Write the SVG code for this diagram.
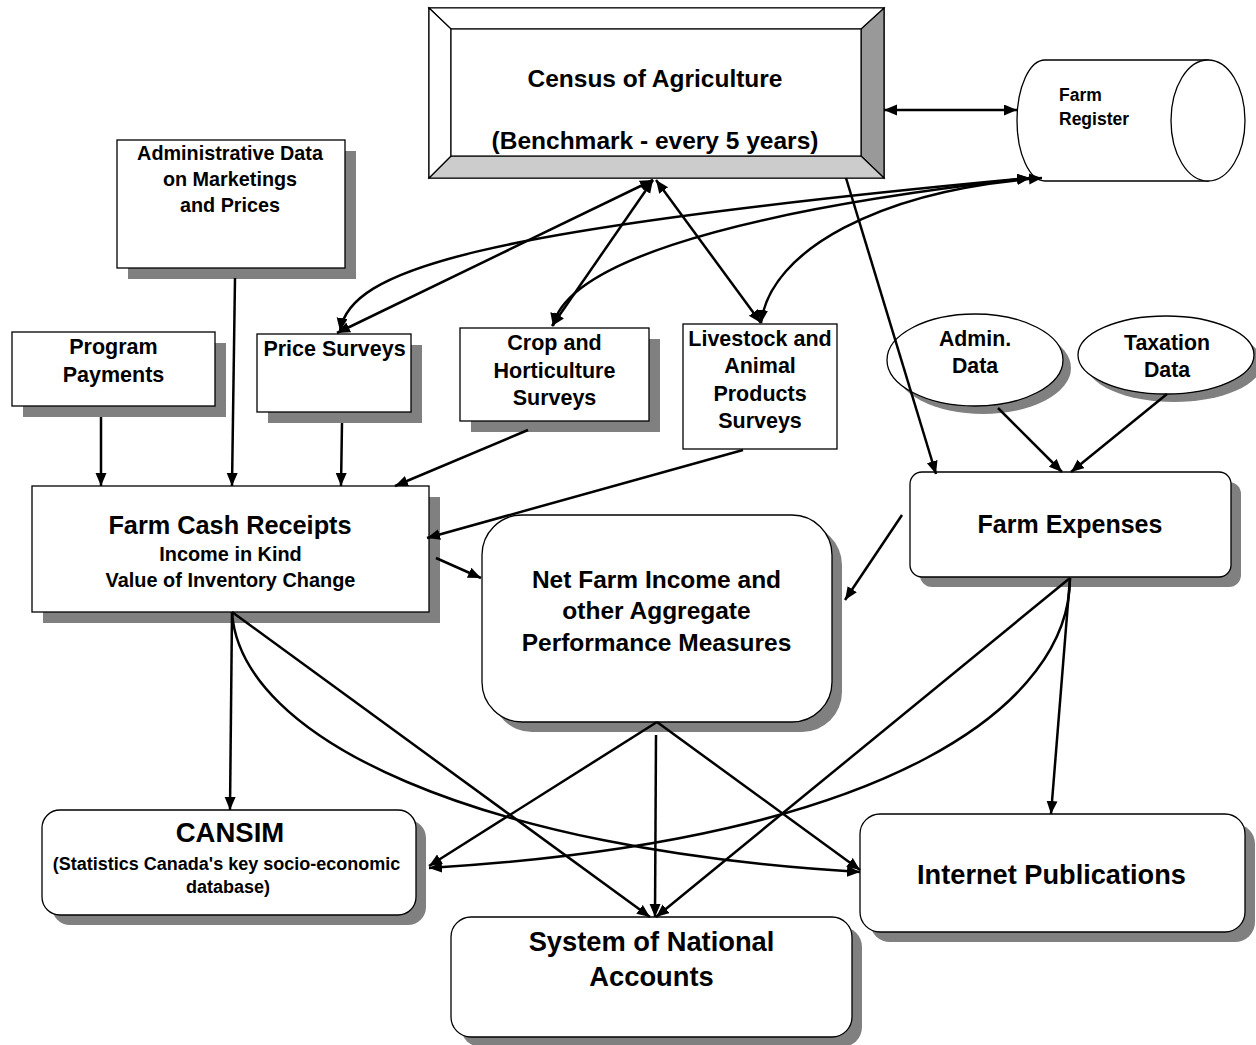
<svg xmlns="http://www.w3.org/2000/svg" width="1256" height="1045" viewBox="0 0 1256 1045">
<defs>
<marker id="ah" markerUnits="userSpaceOnUse" markerWidth="14" markerHeight="12" refX="13" refY="5.5" orient="auto-start-reverse">
<path d="M0,0 L13,5.5 L0,11 z" fill="#000"/>
</marker>
<style>
text{font-family:"Liberation Sans",Arial,sans-serif;font-weight:bold;fill:#000;text-anchor:middle}
.box{fill:#fff;stroke:#000;stroke-width:1.3}
.sh{fill:#808080}
.c{fill:none;stroke:#000;stroke-width:2.5}
.a{marker-end:url(#ah)}
.d{marker-start:url(#ah);marker-end:url(#ah)}
</style>
</defs>
<rect width="1256" height="1045" fill="#fff"/>

<g id="census">
<rect class="box" x="429" y="8" width="455" height="170"/>
<polygon points="884,8 884,178 861,156 861,29" fill="#999" stroke="#000" stroke-width="1.2"/>
<polygon points="429,178 884,178 861,156 451,156" fill="#ccc" stroke="#000" stroke-width="1.2"/>
<polygon points="429,8 884,8 861,29 451,29" fill="#fff" stroke="#000" stroke-width="1.2"/>
<polygon points="429,8 451,29 451,156 429,178" fill="#fff" stroke="#000" stroke-width="1.2"/>
<rect x="451" y="29" width="410" height="127" fill="#fff" stroke="#000" stroke-width="1.2"/>
<text x="655" y="87" font-size="24.5">Census of Agriculture</text>
<text x="655" y="149" font-size="24.5">(Benchmark - every 5 years)</text>
</g>

<g id="farm-register">
<path class="box" d="M1045,60 L1208,60 L1208,181 L1045,181 A28,60.5 0 0 1 1045,60 z"/>
<ellipse class="box" cx="1208" cy="120.5" rx="37" ry="60.5"/>
<text x="1059" y="101" font-size="17.5" style="text-anchor:start">Farm</text>
<text x="1059" y="125" font-size="17.5" style="text-anchor:start">Register</text>
</g>

<g id="admin-data-marketings">
<rect class="sh" x="128" y="151" width="228" height="128"/>
<rect class="box" x="117" y="140" width="228" height="128"/>
<text x="230" y="160" font-size="19.8">Administrative Data</text>
<text x="230" y="186" font-size="19.8">on Marketings</text>
<text x="230" y="212" font-size="19.8">and Prices</text>
</g>

<g id="program-payments">
<rect class="sh" x="23" y="343" width="203" height="74"/>
<rect class="box" x="12" y="332" width="203" height="74"/>
<text x="113.5" y="354" font-size="21.5">Program</text>
<text x="113.5" y="382" font-size="21.5">Payments</text>
</g>

<g id="price-surveys">
<rect class="sh" x="268" y="345" width="154" height="78"/>
<rect class="box" x="257" y="334" width="154" height="78"/>
<text x="334.5" y="356" font-size="21.5">Price Surveys</text>
</g>

<g id="crop-surveys">
<rect class="sh" x="471" y="339" width="189" height="93"/>
<rect class="box" x="460" y="328" width="189" height="93"/>
<text x="554.5" y="350" font-size="21.5">Crop and</text>
<text x="554.5" y="378" font-size="21.5">Horticulture</text>
<text x="554.5" y="405" font-size="21.5">Surveys</text>
</g>

<g id="livestock-surveys">
<rect class="box" x="683" y="324" width="154" height="125"/>
<text x="760" y="346" font-size="21.5">Livestock and</text>
<text x="760" y="373" font-size="21.5">Animal</text>
<text x="760" y="401" font-size="21.5">Products</text>
<text x="760" y="428" font-size="21.5">Surveys</text>
</g>

<g id="admin-data-ellipse">
<ellipse class="sh" cx="983" cy="368" rx="88" ry="46"/>
<ellipse class="box" cx="975" cy="360" rx="88" ry="46"/>
<text x="975" y="346" font-size="21.3">Admin.</text>
<text x="975" y="373" font-size="21.3">Data</text>
</g>

<g id="taxation-data">
<ellipse class="sh" cx="1174" cy="363" rx="88" ry="39"/>
<ellipse class="box" cx="1166" cy="355" rx="88" ry="39"/>
<text x="1167" y="350" font-size="21.3">Taxation</text>
<text x="1167" y="377" font-size="21.3">Data</text>
</g>

<g id="farm-expenses">
<rect class="sh" x="920" y="482" width="321" height="105" rx="12"/>
<rect class="box" x="910" y="472" width="321" height="105" rx="12"/>
<text x="1070" y="533" font-size="25">Farm Expenses</text>
</g>

<g id="farm-cash-receipts">
<rect class="sh" x="43" y="497" width="397" height="126"/>
<rect class="box" x="32" y="486" width="397" height="126"/>
<text x="230" y="534" font-size="25.3">Farm Cash Receipts</text>
<text x="230.5" y="561" font-size="19.9">Income in Kind</text>
<text x="230.5" y="587" font-size="19.9">Value of Inventory Change</text>
</g>

<g id="net-farm-income">
<rect class="sh" x="492" y="525" width="350" height="207" rx="40"/>
<rect class="box" x="482" y="515" width="350" height="207" rx="40"/>
<text x="656.5" y="588" font-size="24.5">Net Farm Income and</text>
<text x="656.5" y="619" font-size="24.5">other Aggregate</text>
<text x="656.5" y="651" font-size="24.5">Performance Measures</text>
</g>

<g id="cansim">
<rect class="sh" x="52" y="820" width="374" height="105" rx="18"/>
<rect class="box" x="42" y="810" width="374" height="105" rx="18"/>
<text x="230" y="842" font-size="27.5">CANSIM</text>
<text x="226.5" y="870" font-size="18">(Statistics Canada's key socio-economic</text>
<text x="228" y="893" font-size="18">database)</text>
</g>

<g id="system-national-accounts">
<rect class="sh" x="461" y="927" width="401" height="120" rx="20"/>
<rect class="box" x="451" y="917" width="401" height="120" rx="20"/>
<text x="651.5" y="951" font-size="27.3">System of National</text>
<text x="651.5" y="986" font-size="27.3">Accounts</text>
</g>

<g id="internet-publications">
<rect class="sh" x="870" y="824" width="385" height="118" rx="20"/>
<rect class="box" x="860" y="814" width="385" height="118" rx="20"/>
<text x="1051.5" y="884" font-size="27.2">Internet Publications</text>
</g>

<g id="connectors">
<line class="c d" x1="884" y1="110" x2="1017" y2="110"/>
<line class="c d" x1="653" y1="180" x2="337" y2="333"/>
<line class="c d" x1="653" y1="180" x2="552" y2="326"/>
<line class="c d" x1="656" y1="180" x2="761" y2="323"/>
<path class="c d" d="M340,331 C350,270 470,230 1030,178"/>
<path class="c d" d="M553,326 C565,270 700,215 1030,178"/>
<path class="c d" d="M761,323 C770,250 880,190 1042,178"/>
<line class="c a" x1="846" y1="178" x2="936" y2="474"/>
<line class="c a" x1="998" y1="408" x2="1062" y2="472"/>
<line class="c a" x1="1167" y1="394" x2="1071" y2="472"/>
<line class="c a" x1="235" y1="278" x2="232" y2="486"/>
<line class="c a" x1="101" y1="417" x2="101" y2="486"/>
<line class="c a" x1="342" y1="423" x2="341" y2="486"/>
<line class="c a" x1="528" y1="430" x2="395" y2="486"/>
<line class="c a" x1="743" y1="450" x2="427" y2="538"/>
<line class="c a" x1="436" y1="558" x2="481" y2="578"/>
<line class="c a" x1="902" y1="515" x2="845" y2="600"/>
<line class="c a" x1="232" y1="612" x2="230" y2="810"/>
<line class="c a" x1="232" y1="612" x2="650" y2="917"/>
<path class="c a" d="M232,612 C240,740 480,850 860,872"/>
<path class="c a" d="M1070,578 C1070,700 900,840 429,868"/>
<line class="c a" x1="1070" y1="578" x2="656" y2="917"/>
<line class="c a" x1="1070" y1="578" x2="1051" y2="814"/>
<line class="c a" x1="657" y1="722" x2="429" y2="866"/>
<line class="c a" x1="656" y1="735" x2="655" y2="917"/>
<line class="c a" x1="657" y1="722" x2="860" y2="870"/>
</g>
</svg>
